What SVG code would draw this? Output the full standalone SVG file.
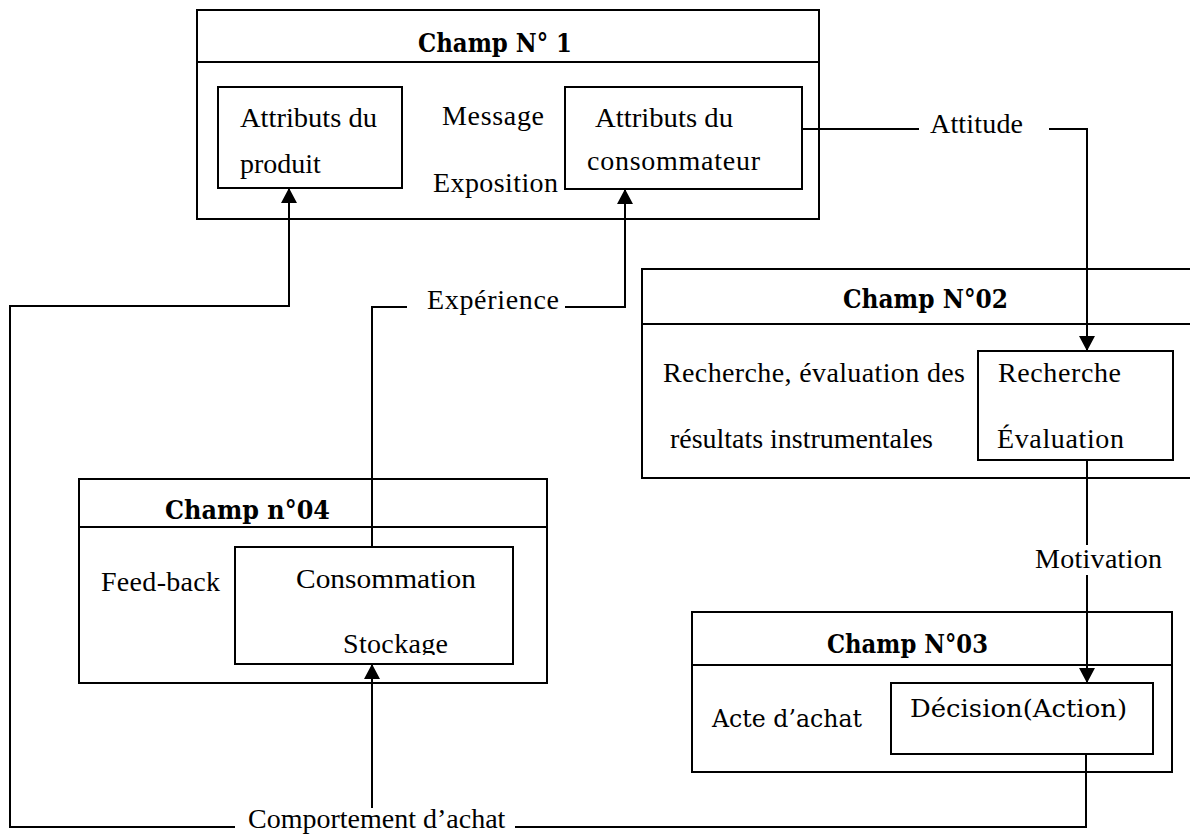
<svg xmlns="http://www.w3.org/2000/svg" width="1190" height="834" viewBox="0 0 1190 834">
<style>
.box{fill:none;stroke:#000;stroke-width:2}
.line{fill:none;stroke:#000;stroke-width:2}
.t{font-family:"Liberation Serif","Times New Roman",serif;font-size:28px;fill:#000}
.c{font-family:"DejaVu Serif","Liberation Serif",serif;font-size:25px;fill:#000}
.h{font-family:"DejaVu Serif","Liberation Serif",serif;font-size:26px;font-weight:bold;fill:#000}
</style>
<defs>
<marker id="arr" viewBox="0 0 15 16" refX="15" refY="8" markerWidth="15" markerHeight="16" markerUnits="userSpaceOnUse" orient="auto">
<path d="M0,0 L15,8 L0,16 Z" fill="#000"/>
</marker>
<clipPath id="clipStock"><rect x="235" y="547" width="278" height="108"/></clipPath>
</defs>
<rect width="1190" height="834" fill="#fff"/>

<g id="champ1">
<rect class="box" x="197" y="10" width="622" height="209"/>
<line class="line" x1="197" y1="62" x2="819" y2="62"/>
<text class="h" x="418" y="52" textLength="154" lengthAdjust="spacingAndGlyphs">Champ N° 1</text>
<text class="t" x="442" y="125" textLength="102">Message</text>
<text class="t" x="433" y="192" textLength="125">Exposition</text>
</g>
<g id="produit">
<rect class="box" x="218" y="87" width="184" height="101"/>
<text class="t" x="240" y="127" textLength="137" lengthAdjust="spacingAndGlyphs">Attributs du</text>
<text class="t" x="240" y="173">produit</text>
</g>
<g id="consommateur">
<rect class="box" x="565" y="87" width="237" height="102"/>
<text class="t" x="595" y="127" textLength="138" lengthAdjust="spacingAndGlyphs">Attributs du</text>
<text class="t" x="587" y="170" textLength="173">consommateur</text>
</g>

<g id="champ2">
<rect class="box" x="642" y="269" width="570" height="209"/>
<line class="line" x1="642" y1="324" x2="1212" y2="324"/>
<text class="h" x="843" y="308" textLength="165" lengthAdjust="spacingAndGlyphs">Champ N°02</text>
<text class="t" x="663" y="382" textLength="302">Recherche, évaluation des</text>
<text class="t" x="670" y="448" textLength="263">résultats instrumentales</text>
</g>
<g id="recherche">
<rect class="box" x="978" y="351" width="195" height="109"/>
<text class="t" x="998" y="382" textLength="123">Recherche</text>
<text class="t" x="997" y="448" textLength="127">Évaluation</text>
</g>

<g id="champ4">
<rect class="box" x="79" y="479" width="468" height="204"/>
<line class="line" x1="79" y1="527" x2="547" y2="527"/>
<text class="h" x="165" y="519" textLength="165" lengthAdjust="spacingAndGlyphs">Champ n°04</text>
<text class="t" x="101" y="591" textLength="119">Feed-back</text>
</g>
<g id="consommation">
<rect class="box" x="235" y="547" width="278" height="117"/>
<text class="t" x="296" y="588" textLength="180" lengthAdjust="spacingAndGlyphs">Consommation</text>
<text class="t" x="343" y="653" clip-path="url(#clipStock)" textLength="105">Stockage</text>
</g>

<g id="champ3">
<rect class="box" x="692" y="612" width="480" height="160"/>
<line class="line" x1="692" y1="665" x2="1172" y2="665"/>
<text class="h" x="827" y="653" textLength="161" lengthAdjust="spacingAndGlyphs">Champ N°03</text>
<text class="c" x="712" y="727" textLength="150" lengthAdjust="spacingAndGlyphs">Acte d’achat</text>
</g>
<g id="decision">
<rect class="box" x="891" y="683" width="262" height="71"/>
<text class="c" x="910" y="717" textLength="217" lengthAdjust="spacingAndGlyphs">Décision(Action)</text>
</g>

<g id="connectors">
<path class="line" d="M802,129 H919"/>
<path class="line" d="M1049,129 H1087 V351" marker-end="url(#arr)"/>
<text class="t" x="930" y="133" textLength="93">Attitude</text>
<path class="line" d="M1087,460 V545"/>
<path class="line" d="M1087,575 V683" marker-end="url(#arr)"/>
<text class="t" x="1035" y="568" textLength="127">Motivation</text>
<path class="line" d="M1086,754 V827 H515"/>
<path class="line" d="M235,827 H10 V306 H289 V188" marker-end="url(#arr)"/>
<path class="line" d="M372,808 V664" marker-end="url(#arr)"/>
<text class="t" x="248" y="828">Comportement d’achat</text>
<path class="line" d="M372,547 V307 H407"/>
<path class="line" d="M565,307 H625 V189" marker-end="url(#arr)"/>
<text class="t" x="427" y="309" textLength="132">Expérience</text>
</g>
</svg>
